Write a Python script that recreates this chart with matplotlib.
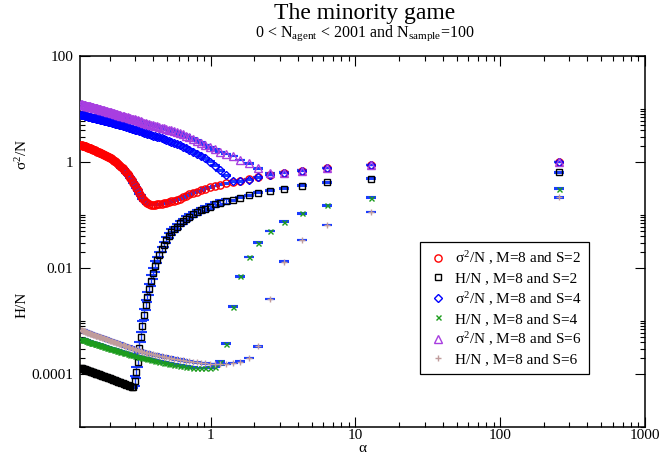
import numpy as np
from matplotlib import pyplot as plt
from matplotlib import ticker

plt.rcParams['font.family'] = ['Liberation Serif', 'DejaVu Serif']
plt.rcParams['mathtext.fontset'] = 'custom'
plt.rcParams['mathtext.rm'] = 'Liberation Serif'
plt.rcParams['mathtext.it'] = 'Liberation Serif:italic'
plt.rcParams['mathtext.bf'] = 'Liberation Serif:bold'

memory = 8
n_agents = np.array([1] + list(range(20, 2001, 20)))
alpha = 2.0 ** memory / n_agents

# log10 of the plotted values, same order as n_agents
log_sigma_s2 = [0.0,
    -0.06, -0.11, -0.165, -0.20, -0.245, -0.29, -0.33, -0.36, -0.38, -0.404,
    -0.427, -0.45, -0.476, -0.504, -0.533, -0.56, -0.588, -0.613, -0.64, -0.668,
    -0.692, -0.713, -0.73, -0.745, -0.758, -0.77, -0.781, -0.79, -0.797, -0.80,
    -0.806, -0.81, -0.804, -0.794, -0.779, -0.756, -0.721, -0.685, -0.634, -0.59,
    -0.534, -0.485, -0.436, -0.387, -0.338, -0.298, -0.262, -0.232, -0.196, -0.17,
    -0.145, -0.12, -0.10, -0.076, -0.058, -0.04, -0.022, -0.004, 0.012, 0.028,
    0.04, 0.056, 0.068, 0.08, 0.09, 0.101, 0.112, 0.122, 0.129, 0.14,
    0.15, 0.156, 0.165, 0.171, 0.177, 0.186, 0.192, 0.198, 0.204, 0.21,
    0.217, 0.224, 0.231, 0.238, 0.242, 0.249, 0.256, 0.263, 0.266, 0.273,
    0.277, 0.283, 0.287, 0.293, 0.296, 0.30, 0.307, 0.31, 0.317, 0.32]

log_h_s2 = [-0.195,
    -0.315, -0.38, -0.45, -0.50, -0.54, -0.58, -0.625, -0.67, -0.72, -0.745,
    -0.77, -0.80, -0.84, -0.88, -0.91, -0.95, -0.99, -1.03, -1.07, -1.12,
    -1.16, -1.22, -1.27, -1.32, -1.39, -1.47, -1.56, -1.65, -1.75, -1.85,
    -1.97, -2.10, -2.24, -2.40, -2.55, -2.70, -2.88, -3.10, -3.30, -3.50,
    -3.77, -3.97, -4.13, -4.247, -4.237, -4.227, -4.218, -4.209, -4.20, -4.191,
    -4.183, -4.174, -4.166, -4.158, -4.15, -4.142, -4.134, -4.127, -4.119, -4.112,
    -4.105, -4.098, -4.091, -4.084, -4.077, -4.071, -4.064, -4.058, -4.051, -4.045,
    -4.039, -4.033, -4.027, -4.021, -4.015, -4.009, -4.004, -3.998, -3.992, -3.987,
    -3.982, -3.976, -3.971, -3.966, -3.961, -3.956, -3.951, -3.946, -3.941, -3.936,
    -3.931, -3.926, -3.921, -3.917, -3.912, -3.908, -3.903, -3.899, -3.894, -3.89]

log_sigma_s4 = [0.0,
    -0.06, -0.11, -0.165, -0.20, -0.245, -0.29, -0.335, -0.365, -0.36, -0.25,
    -0.16, -0.07, 0.004, 0.067, 0.118, 0.16, 0.198, 0.231, 0.261, 0.288,
    0.312, 0.336, 0.358, 0.38, 0.399, 0.417, 0.433, 0.449, 0.463, 0.476,
    0.488, 0.50, 0.512, 0.52, 0.531, 0.543, 0.555, 0.566, 0.576, 0.586,
    0.596, 0.604, 0.613, 0.623, 0.632, 0.641, 0.649, 0.656, 0.665, 0.672,
    0.679, 0.686, 0.691, 0.698, 0.704, 0.709, 0.715, 0.721, 0.726, 0.732,
    0.736, 0.742, 0.746, 0.75, 0.755, 0.761, 0.766, 0.772, 0.775, 0.781,
    0.786, 0.79, 0.795, 0.799, 0.802, 0.807, 0.811, 0.815, 0.818, 0.822,
    0.825, 0.829, 0.833, 0.836, 0.838, 0.842, 0.846, 0.851, 0.853, 0.857,
    0.86, 0.864, 0.866, 0.871, 0.873, 0.878, 0.88, 0.883, 0.887, 0.89]

log_h_s4 = [-0.50,
    -0.67, -0.82, -0.97, -1.125, -1.30, -1.52, -1.79, -2.16, -2.73, -3.43,
    -3.77, -3.86, -3.882, -3.89, -3.89, -3.89, -3.88, -3.87, -3.862, -3.852,
    -3.843, -3.833, -3.823, -3.813, -3.805, -3.795, -3.784, -3.774, -3.765, -3.756,
    -3.748, -3.74, -3.73, -3.721, -3.713, -3.705, -3.697, -3.69, -3.682, -3.676,
    -3.67, -3.664, -3.658, -3.649, -3.641, -3.634, -3.626, -3.62, -3.613, -3.607,
    -3.601, -3.594, -3.587, -3.579, -3.573, -3.566, -3.56, -3.554, -3.547, -3.541,
    -3.536, -3.53, -3.525, -3.52, -3.513, -3.507, -3.50, -3.494, -3.489, -3.483,
    -3.476, -3.472, -3.465, -3.461, -3.456, -3.45, -3.445, -3.441, -3.436, -3.432,
    -3.428, -3.423, -3.419, -3.414, -3.412, -3.407, -3.40, -3.397, -3.393, -3.387,
    -3.383, -3.377, -3.373, -3.367, -3.363, -3.357, -3.353, -3.35, -3.343, -3.34]

log_sigma_s6 = [0.0,
    -0.06, -0.11, -0.165, -0.20, -0.21, -0.12, -0.025, 0.04, 0.11, 0.15,
    0.188, 0.237, 0.279, 0.32, 0.363, 0.40, 0.438, 0.472, 0.498, 0.522,
    0.543, 0.563, 0.58, 0.597, 0.612, 0.626, 0.638, 0.65, 0.661, 0.671,
    0.681, 0.69, 0.702, 0.714, 0.724, 0.734, 0.745, 0.756, 0.766, 0.776,
    0.786, 0.794, 0.802, 0.811, 0.819, 0.826, 0.834, 0.84, 0.847, 0.853,
    0.859, 0.866, 0.873, 0.881, 0.887, 0.894, 0.90, 0.906, 0.913, 0.919,
    0.924, 0.93, 0.935, 0.94, 0.946, 0.952, 0.958, 0.964, 0.968, 0.974,
    0.98, 0.984, 0.99, 0.994, 0.998, 1.004, 1.008, 1.012, 1.016, 1.02,
    1.024, 1.028, 1.032, 1.036, 1.038, 1.042, 1.046, 1.05, 1.053, 1.057,
    1.059, 1.064, 1.066, 1.07, 1.073, 1.077, 1.08, 1.083, 1.087, 1.09]

log_h_s6 = [-0.667,
    -0.94, -1.19, -1.47, -1.88, -2.585, -3.48, -3.70, -3.77, -3.79, -3.81,
    -3.818, -3.814, -3.809, -3.801, -3.791, -3.78, -3.771, -3.763, -3.752, -3.742,
    -3.731, -3.721, -3.711, -3.701, -3.693, -3.685, -3.674, -3.664, -3.655, -3.646,
    -3.638, -3.63, -3.62, -3.611, -3.604, -3.596, -3.586, -3.577, -3.568, -3.56,
    -3.552, -3.545, -3.537, -3.526, -3.514, -3.505, -3.495, -3.487, -3.478, -3.47,
    -3.462, -3.453, -3.446, -3.437, -3.429, -3.422, -3.415, -3.408, -3.401, -3.393,
    -3.388, -3.381, -3.375, -3.37, -3.363, -3.356, -3.348, -3.341, -3.336, -3.329,
    -3.322, -3.317, -3.31, -3.305, -3.30, -3.293, -3.288, -3.283, -3.278, -3.274,
    -3.269, -3.264, -3.259, -3.254, -3.252, -3.245, -3.239, -3.232, -3.228, -3.221,
    -3.217, -3.21, -3.207, -3.199, -3.196, -3.188, -3.185, -3.181, -3.174, -3.17]

# error bar half widths, in decades
err_h_s2 = [0.01] * 10 + [0.05] * 21 + [0.1] * 13 + [0.02] * 57
err_other = 0.006

series = [
    (log_sigma_s2, err_other, 'o', 'red', 5.2, r'σ$^2$/N , M=8 and S=2'),
    (log_h_s2, err_h_s2, 's', 'black', 4.6, 'H/N , M=8 and S=2'),
    (log_sigma_s4, err_other, 'D', 'blue', 4.0, r'σ$^2$/N , M=8 and S=4'),
    (log_h_s4, err_other, 'x', '#1c9c1c', 3.6, 'H/N , M=8 and S=4'),
    (log_sigma_s6, err_other, '^', '#a83ee0', 5.6, r'σ$^2$/N , M=8 and S=6'),
    (log_h_s6, err_other, '+', '#c09c9c', 5.0, 'H/N , M=8 and S=6'),
]

fig = plt.figure(figsize=(6.62, 4.58), dpi=100)
ax = fig.add_axes([80 / 662, 1 - 427 / 458, 565 / 662, 371 / 458])

handles = []
for logs, err, mk, col, ms, lab in series:
    y = 10.0 ** np.array(logs)
    e = np.array(err) * np.ones(len(y))
    lo = y - y * 10.0 ** (-e)
    hi = y * 10.0 ** e - y
    ax.errorbar(alpha, y, yerr=[lo, hi], fmt='none', ecolor='#1a3cff',
                elinewidth=1.0, capsize=3.5, capthick=1.5, zorder=2)
    h, = ax.plot(alpha, y, ls='none', marker=mk, ms=ms, mfc='none', mec=col,
                 mew=1.0, zorder=3, label=lab)
    handles.append(h)

ax.set_xscale('log')
ax.set_yscale('log')
ax.set_xlim(0.125, 1000)
ax.set_ylim(1e-5, 100)

ax.xaxis.set_major_locator(ticker.FixedLocator([1, 10, 100, 1000]))
ax.xaxis.set_minor_locator(ticker.LogLocator(base=10, subs=np.arange(2, 10), numticks=50))
ax.yaxis.set_major_locator(ticker.FixedLocator([1e-4, 1e-2, 1, 100]))
ax.yaxis.set_minor_locator(ticker.LogLocator(base=100, subs=np.arange(2, 11), numticks=50))
fmt = ticker.FuncFormatter(lambda v, p: '%g' % v)
ax.xaxis.set_major_formatter(fmt)
ax.yaxis.set_major_formatter(fmt)
ax.xaxis.set_minor_formatter(ticker.NullFormatter())
ax.yaxis.set_minor_formatter(ticker.NullFormatter())

ax.tick_params(which='both', direction='in', top=True, right=True, width=0.8, labelsize=11)
ax.tick_params(which='major', length=7.2)
ax.tick_params(which='minor', length=3.6)
ax.tick_params(axis='x', pad=1.5)
ax.tick_params(axis='y', pad=5)
for s in ax.spines.values():
    s.set_linewidth(1.1)

fig.text(365 / 662, 1 - 14 / 458, 'The minority game', ha='center', va='center', fontsize=17)
fig.text(365 / 662, 1 - 33 / 458, r'0 < N$_{\mathrm{agent}}$ < 2001 and N$_{\mathrm{sample}}$=100',
         ha='center', va='center', fontsize=11.5)
fig.text(362 / 662, 1 - 449 / 458, 'α', ha='center', va='center', fontsize=11)
fig.text(22 / 662, 1 - 155 / 458, r'σ$^2$/N', ha='center', va='center', rotation=90, fontsize=11)
fig.text(22 / 662, 1 - 305 / 458, 'H/N', ha='center', va='center', rotation=90, fontsize=11)

leg = ax.legend(handles=handles, loc='upper left', bbox_to_anchor=(420 / 662, 1 - 242 / 458),
                bbox_transform=fig.transFigure, borderaxespad=0, numpoints=1,
                fontsize=11, handlelength=1.3, handletextpad=0.5, borderpad=0.5,
                labelspacing=0.3, fancybox=False, framealpha=1, edgecolor='black')
leg.get_frame().set_linewidth(0.9)

fig.savefig('out.png', dpi=100)
